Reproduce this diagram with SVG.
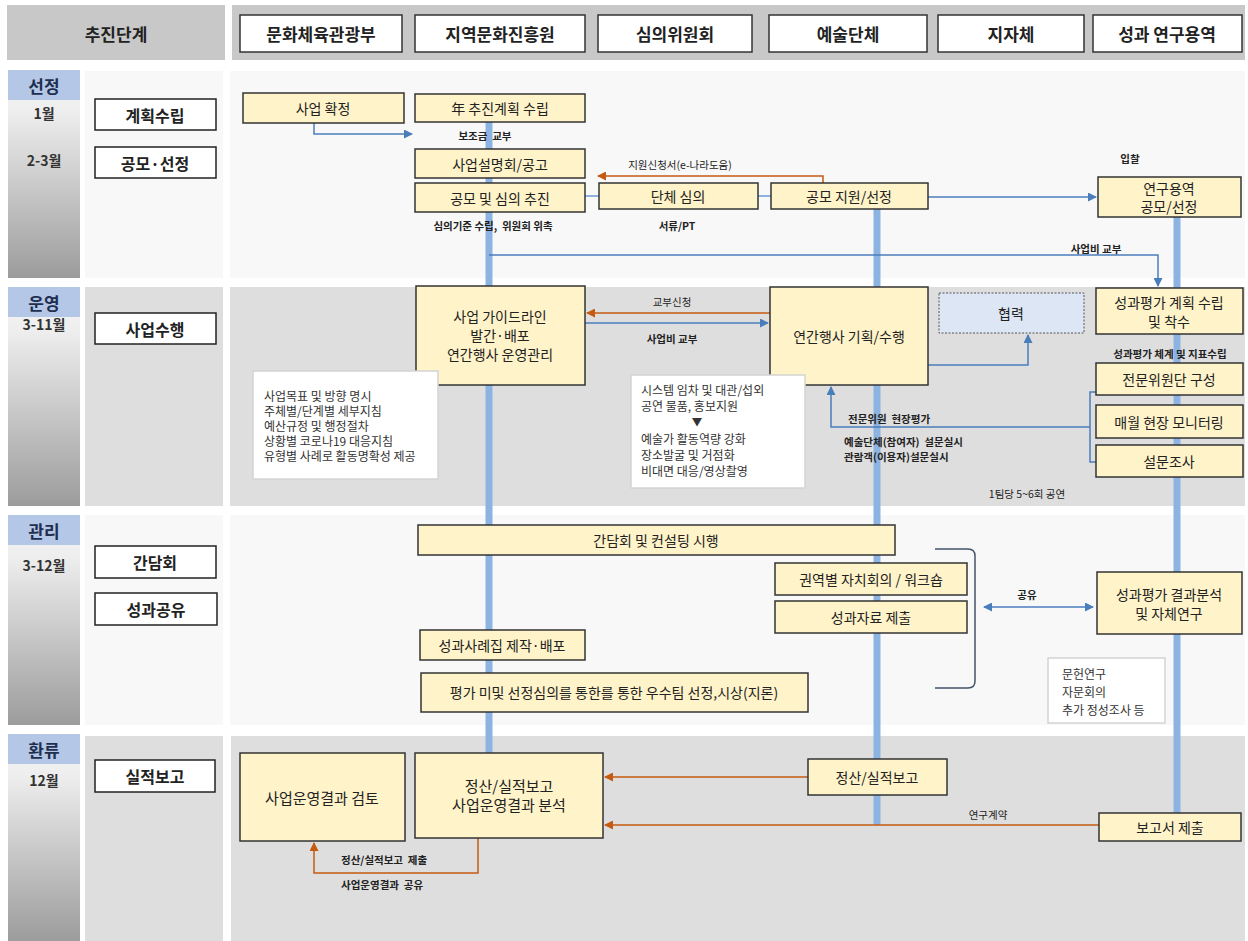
<svg xmlns="http://www.w3.org/2000/svg" width="1248" height="941" viewBox="0 0 1248 941">
<defs>
<linearGradient id="ph" x1="0" y1="0" x2="0" y2="1">
<stop offset="0" stop-color="#f6f6f6"/><stop offset="0.2" stop-color="#eeeeee"/><stop offset="1" stop-color="#9c9c9c"/>
</linearGradient>
<marker id="ab" markerUnits="userSpaceOnUse" markerWidth="9" markerHeight="9" refX="8" refY="4.5" orient="auto-start-reverse"><path d="M0,0 L9,4.5 L0,9 z" fill="#4a7ebb"/></marker>
<marker id="ao" markerUnits="userSpaceOnUse" markerWidth="9" markerHeight="9" refX="8" refY="4.5" orient="auto"><path d="M0,0 L9,4.5 L0,9 z" fill="#c55a11"/></marker>
<style>
text{font-family:"Noto Sans CJK KR","Noto Sans",sans-serif;fill:#222;}
.hd{font-size:17px;font-weight:bold;text-anchor:middle;dominant-baseline:central;}
.ph{font-size:17px;font-weight:bold;text-anchor:middle;dominant-baseline:central;fill:#1f2f4f;}
.mo{font-size:14px;font-weight:bold;text-anchor:middle;dominant-baseline:central;fill:#333;}
.st{font-size:16px;font-weight:bold;text-anchor:middle;dominant-baseline:central;}
.bt{font-size:14px;text-anchor:middle;dominant-baseline:central;}
.sm{font-size:10.5px;font-weight:bold;dominant-baseline:central;}
.sn{font-size:10.5px;dominant-baseline:central;}
.nt{font-size:12px;dominant-baseline:central;fill:#333;}
.c{text-anchor:middle;}
.yb{fill:#fff3c9;stroke:#333;stroke-width:1.5;}
.wb{fill:#fff;stroke:#222;stroke-width:1.5;}
.hb{fill:#fff;stroke:#333;stroke-width:1.5;}
.nb{fill:#fff;stroke:#d4d4d4;stroke-width:1.5;}
.life{stroke:#8db3e2;stroke-width:7;fill:none;}
.lk{stroke:#8db3e2;stroke-width:2;fill:none;}
.ba{stroke:#4a7ebb;stroke-width:1.5;fill:none;}
.oa{stroke:#c55a11;stroke-width:1.5;fill:none;}
.lt{fill:#f8f8f8;}
.dk{fill:#dedede;}
.pl{fill:#b4c7e7;}
</style>
</defs>

<g id="background">
<rect x="7" y="5" width="218" height="55" fill="#c8c8c8"/>
<rect x="232" y="5" width="1013" height="55" fill="#c8c8c8"/>
<rect x="8" y="70" width="72" height="208" fill="url(#ph)"/>
<rect x="8" y="70" width="72" height="30" class="pl"/>
<rect x="85" y="71" width="138" height="207" class="lt"/>
<rect x="230" y="71" width="1015" height="207" class="lt"/>
<rect x="8" y="287" width="72" height="219" fill="url(#ph)"/>
<rect x="8" y="287" width="72" height="30" class="pl"/>
<rect x="85" y="287" width="138" height="219" class="dk"/>
<rect x="230" y="287" width="1015" height="219" class="dk"/>
<rect x="8" y="515" width="72" height="210" fill="url(#ph)"/>
<rect x="8" y="515" width="72" height="30" class="pl"/>
<rect x="85" y="515" width="138" height="210" class="lt"/>
<rect x="230" y="515" width="1015" height="210" class="lt"/>
<rect x="8" y="734" width="72" height="207" fill="url(#ph)"/>
<rect x="8" y="734" width="72" height="30" class="pl"/>
<rect x="85" y="736" width="138" height="205" class="dk"/>
<rect x="231" y="736" width="1014" height="205" class="dk"/>
</g>

<g id="header">
<text x="116" y="33" class="hd">추진단계</text>
<rect x="240" y="15" width="162" height="37" class="hb"/><text x="321" y="33" class="hd">문화체육관광부</text>
<rect x="415" y="15" width="170" height="37" class="hb"/><text x="500" y="33" class="hd">지역문화진흥원</text>
<rect x="598" y="15" width="154" height="37" class="hb"/><text x="675" y="33" class="hd">심의위원회</text>
<rect x="769" y="15" width="158" height="37" class="hb"/><text x="848" y="33" class="hd">예술단체</text>
<rect x="938" y="15" width="146" height="37" class="hb"/><text x="1011" y="33" class="hd">지자체</text>
<rect x="1093" y="15" width="149" height="37" class="hb"/><text x="1167" y="33" class="hd">성과 연구용역</text>
</g>

<g id="phases">
<text x="44" y="85" class="ph">선정</text>
<text x="44" y="113" class="mo">1월</text>
<text x="44" y="160" class="mo">2-3월</text>
<text x="44" y="302" class="ph">운영</text>
<text x="44" y="324" class="mo">3-11월</text>
<text x="44" y="530" class="ph">관리</text>
<text x="44" y="565" class="mo">3-12월</text>
<text x="44" y="749" class="ph">환류</text>
<text x="44" y="780" class="mo">12월</text>
</g>

<g id="steps">
<g id="s-plan"><rect x="95" y="99" width="121" height="31" class="wb"/><text x="155" y="115" class="st">계획수립</text></g>
<g id="s-select"><rect x="95" y="147" width="121" height="31" class="wb"/><text x="155" y="163" class="st">공모·선정</text></g>
<g id="s-run"><rect x="95" y="313" width="121" height="31" class="wb"/><text x="155" y="329" class="st">사업수행</text></g>
<g id="s-meet"><rect x="95" y="546" width="121" height="32" class="wb"/><text x="155" y="562" class="st">간담회</text></g>
<g id="s-share"><rect x="95" y="593" width="122" height="32" class="wb"/><text x="156" y="609" class="st">성과공유</text></g>
<g id="s-report"><rect x="95" y="760" width="120" height="32" class="wb"/><text x="155" y="776" class="st">실적보고</text></g>
</g>

<g id="connectors">
<path d="M489 122 V753" class="life"/>
<path d="M877 209 V825" class="life"/>
<path d="M1177 217 V813" class="life"/>
<path d="M314 123 V134 H412" class="ba" marker-end="url(#ab)"/>
<path d="M823 183 V176 H598" class="oa" marker-end="url(#ao)"/>
<path d="M585 196 H599 M758 196 H771" class="lk"/>
<path d="M928 197 H1096" class="ba" marker-end="url(#ab)"/>
<path d="M489 255 H1158 V286" class="ba" marker-end="url(#ab)"/>
<path d="M770 313 H587" class="oa" marker-end="url(#ao)"/>
<path d="M585 323 H768" class="ba" marker-end="url(#ab)"/>
<path d="M928 365 H1028 V335" class="ba" marker-end="url(#ab)"/>
<path d="M1096 392 H1090 V462 H1096" class="ba"/>
<path d="M1090 427 H831 V387" class="ba" marker-end="url(#ab)"/>
<path d="M984 607 H1093" class="ba" marker-start="url(#ab)" marker-end="url(#ab)"/>
<path d="M935 549 H968 Q975 549 975 556 V681 Q975 688 968 688 H935" stroke="#44546a" stroke-width="1.5" fill="none"/>
<path d="M808 777 H605" class="oa" marker-end="url(#ao)"/>
<path d="M1099 825 H605" class="oa" marker-end="url(#ao)"/>
<path d="M478 838 V873 H314 V843" class="oa" marker-end="url(#ao)"/>
</g>

<g id="labels">
<text x="485" y="135" class="sm c" xml:space="preserve">보조금  교부</text>
<text x="680" y="164" class="sn c">지원신청서(e-나라도움)</text>
<text x="493" y="225" class="sm c" xml:space="preserve">심의기준 수립,  위원회 위촉</text>
<text x="677" y="225" class="sm c">서류/PT</text>
<text x="1130" y="158" class="sm c">입찰</text>
<text x="1096" y="248" class="sm c">사업비 교부</text>
<text x="672" y="301" class="sn c">교부신청</text>
<text x="672" y="338" class="sm c">사업비 교부</text>
<text x="1170" y="353" class="sm c">성과평가 체계 및 지표수립</text>
<text x="848" y="418" class="sm" xml:space="preserve">전문위원  현장평가</text>
<text x="844" y="441" class="sm" xml:space="preserve">예술단체(참여자)  설문실시</text>
<text x="844" y="456" class="sm">관람객(이용자)설문실시</text>
<text x="1027" y="493" class="sn c">1팀당 5~6회 공연</text>
<text x="1027" y="594" class="sm c">공유</text>
<text x="988" y="814" class="sn c">연구계약</text>
<text x="341" y="859" class="sm" xml:space="preserve">정산/실적보고  제출</text>
<text x="341" y="884" class="sm" xml:space="preserve">사업운영결과  공유</text>
</g>

<g id="nodes">
<g id="n-confirm"><rect x="243" y="93" width="161" height="30" class="yb"/><text x="323" y="108" class="bt">사업 확정</text></g>
<g id="n-yearplan"><rect x="415" y="94" width="170" height="28" class="yb"/><text x="500" y="108" class="bt">年 추진계획 수립</text></g>
<g id="n-brief"><rect x="415" y="149" width="170" height="29" class="yb"/><text x="500" y="164" class="bt">사업설명회/공고</text></g>
<g id="n-promo"><rect x="415" y="183" width="170" height="29" class="yb"/><text x="500" y="198" class="bt">공모 및 심의 추진</text></g>
<g id="n-review"><rect x="599" y="183" width="159" height="26" class="yb"/><text x="678" y="196" class="bt">단체 심의</text></g>
<g id="n-apply"><rect x="771" y="183" width="157" height="26" class="yb"/><text x="849" y="196" class="bt">공모 지원/선정</text></g>
<g id="n-research"><rect x="1098" y="177" width="143" height="40" class="yb"/><text x="1169" y="188" class="bt">연구용역</text><text x="1169" y="206" class="bt">공모/선정</text></g>
<g id="n-guide"><rect x="416" y="286" width="169" height="99" class="yb"/><text x="500" y="316" class="bt">사업 가이드라인</text><text x="500" y="335" class="bt">발간·배포</text><text x="500" y="354" class="bt">연간행사 운영관리</text></g>
<g id="n-event"><rect x="770" y="287" width="158" height="98" class="yb"/><text x="849" y="336" class="bt">연간행사 기획/수행</text></g>
<g id="n-coop"><rect x="939" y="293" width="145" height="40" fill="#dce6f4" stroke="#555" stroke-width="1" stroke-dasharray="2,1.5"/><text x="1011" y="313" class="bt">협력</text></g>
<g id="n-evalplan"><rect x="1096" y="288" width="147" height="46" class="yb"/><text x="1169" y="302" class="bt">성과평가 계획 수립</text><text x="1169" y="321" class="bt">및 착수</text></g>
<g id="n-expert"><rect x="1096" y="363" width="147" height="32" class="yb"/><text x="1169" y="379" class="bt">전문위원단 구성</text></g>
<g id="n-monitor"><rect x="1096" y="405" width="147" height="33" class="yb"/><text x="1169" y="422" class="bt">매월 현장 모니터링</text></g>
<g id="n-survey"><rect x="1096" y="445" width="147" height="32" class="yb"/><text x="1169" y="461" class="bt">설문조사</text></g>
<g id="n-note1"><rect x="253" y="371" width="185" height="108" class="nb"/>
<text x="264" y="395" class="nt">사업목표 및 방향 명시</text>
<text x="264" y="410" class="nt">주체별/단계별 세부지침</text>
<text x="264" y="425" class="nt">예산규정 및 행정절차</text>
<text x="264" y="440" class="nt">상황별 코로나19 대응지침</text>
<text x="264" y="455" class="nt">유형별 사례로 활동명확성 제공</text></g>
<g id="n-note2"><rect x="631" y="375" width="174" height="113" class="nb"/>
<text x="641" y="389" class="nt">시스템 임차 및 대관/섭외</text>
<text x="641" y="405" class="nt">공연 물품, 홍보지원</text>
<text x="697" y="421.5" class="nt c" style="font-size:10.5px">▼</text>
<text x="641" y="438" class="nt">예술가 활동역량 강화</text>
<text x="641" y="454" class="nt">장소발굴 및 거점화</text>
<text x="641" y="470" class="nt">비대면 대응/영상촬영</text></g>
<g id="n-meeting"><rect x="418" y="525" width="477" height="30" class="yb"/><text x="656" y="540" class="bt">간담회 및 컨설팅 시행</text></g>
<g id="n-regional"><rect x="775" y="563" width="192" height="32" class="yb"/><text x="871" y="579" class="bt">권역별 자치회의 / 워크숍</text></g>
<g id="n-submit"><rect x="775" y="601" width="192" height="32" class="yb"/><text x="871" y="617" class="bt">성과자료 제출</text></g>
<g id="n-analysis"><rect x="1097" y="572" width="145" height="62" class="yb"/><text x="1169" y="594" class="bt">성과평가 결과분석</text><text x="1169" y="613" class="bt">및 자체연구</text></g>
<g id="n-note3"><rect x="1048" y="658" width="117" height="65" class="nb"/>
<text x="1062" y="673" class="nt">문헌연구</text>
<text x="1062" y="691" class="nt">자문회의</text>
<text x="1062" y="709" class="nt">추가 정성조사 등</text></g>
<g id="n-casebook"><rect x="420" y="630" width="165" height="30" class="yb"/><text x="502" y="645" class="bt">성과사례집 제작·배포</text></g>
<g id="n-award"><rect x="421" y="673" width="387" height="39" class="yb"/><text x="614" y="692" class="bt">평가 미및 선정심의를 통한를 통한 우수팀 선정,시상(지론)</text></g>
<g id="n-result"><rect x="240" y="753" width="165" height="88" class="yb"/><text x="322" y="797" class="bt" style="font-size:15px">사업운영결과 검토</text></g>
<g id="n-settle"><rect x="415" y="753" width="188" height="85" class="yb"/><text x="509" y="785" class="bt" style="font-size:15px">정산/실적보고</text><text x="509" y="804" class="bt" style="font-size:15px">사업운영결과 분석</text></g>
<g id="n-settle2"><rect x="808" y="759" width="139" height="36" class="yb"/><text x="877" y="777" class="bt">정산/실적보고</text></g>
<g id="n-report"><rect x="1099" y="813" width="142" height="28" class="yb"/><text x="1170" y="827" class="bt">보고서 제출</text></g>
</g>
</svg>
